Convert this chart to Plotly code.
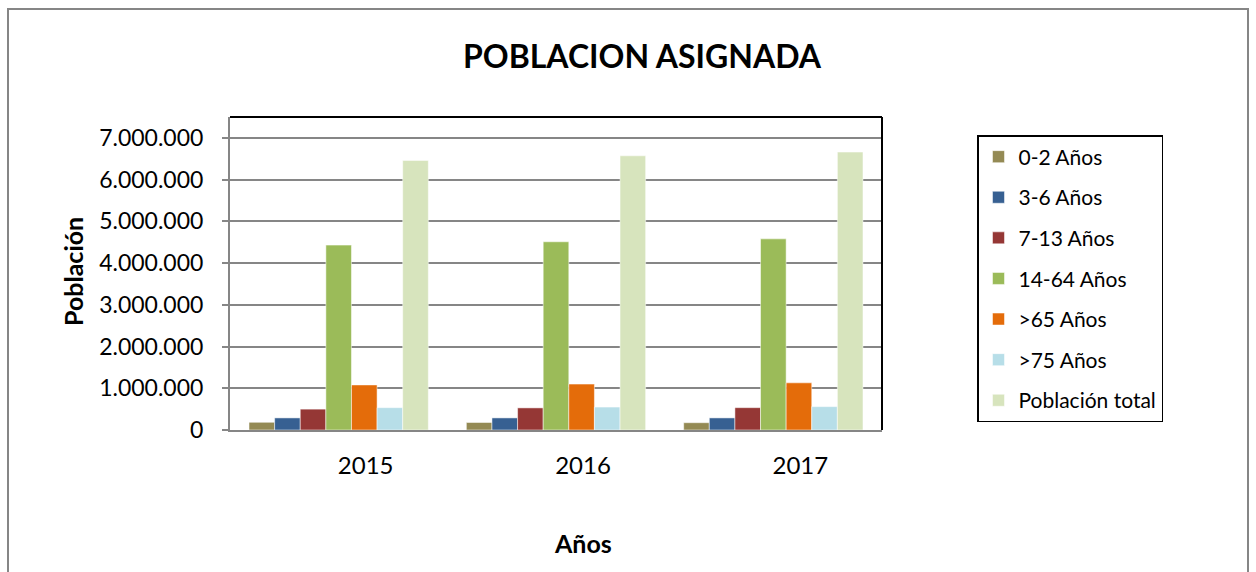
import plotly.graph_objects as go

years = ["2015", "2016", "2017"]
series_names = ["0-2 Años", "3-6 Años", "7-13 Años", "14-64 Años", ">65 Años", ">75 Años", "Población total"]
v_0_2 = [185000, 180000, 175000]
v_3_6 = [290000, 290000, 290000]
v_7_13 = [500000, 530000, 535000]
v_14_64 = [4430000, 4510000, 4580000]
v_65 = [1080000, 1100000, 1130000]
v_75 = [535000, 550000, 560000]
v_total = [6460000, 6570000, 6660000]
colors = ["#948A54", "#376092", "#953735", "#9BBB59", "#E46C0A", "#B7DEE8", "#D7E4BD"]
y_ticks = [0, 1000000, 2000000, 3000000, 4000000, 5000000, 6000000, 7000000]
y_tick_text = ["0", "1.000.000", "2.000.000", "3.000.000", "4.000.000", "5.000.000", "6.000.000", "7.000.000"]

values = [v_0_2, v_3_6, v_7_13, v_14_64, v_65, v_75, v_total]

FONT = "Lato"
W, H = 1256, 572
L, R, T, B = 230, 882, 117, 430
pw, ph = R - L, B - T

def px(x):
    return (x - L) / pw

def py(y):
    return (B - y) / ph

fig = go.Figure()
for i, (name, vals) in enumerate(zip(series_names, values)):
    fig.add_trace(go.Bar(
        x=years, y=vals, name=name, legendgroup=name,
        marker=dict(color=colors[i], line=dict(color="rgba(255,255,255,0.5)", width=1)),
    ))

annotations = [
    dict(text="<b>POBLACION ASIGNADA</b>", xref="paper", yref="paper",
         x=px(642), y=py(55), showarrow=False, xanchor="center", yanchor="middle",
         font=dict(family=FONT, size=32, color="black")),
    dict(text="<b>Población</b>", xref="paper", yref="paper",
         x=px(73), y=py(272), showarrow=False, textangle=-90,
         xanchor="center", yanchor="middle",
         font=dict(family=FONT, size=25, color="black")),
    dict(text="<b>Años</b>", xref="paper", yref="paper",
         x=px(583), y=py(543), showarrow=False, xanchor="center", yanchor="middle",
         font=dict(family=FONT, size=25, color="black")),
]

fig.update_layout(
    width=W, height=H,
    margin=dict(l=L, r=W - R, t=T, b=H - B),
    paper_bgcolor="white", plot_bgcolor="white",
    barmode="group", bargap=0.175, bargroupgap=0,
    font=dict(family=FONT, color="black"),
    showlegend=True,
    legend=dict(
        x=px(977), y=py(135), xanchor="left", yanchor="top",
        bordercolor="black", borderwidth=1.5, bgcolor="white",
        font=dict(family=FONT, size=21, color="black"),
        tracegroupgap=10.3, traceorder="grouped",
        itemwidth=30,
    ),
    xaxis=dict(
        type="category",
        showline=True, linecolor="#868686", linewidth=2,
        ticks="", showgrid=False,
        tickfont=dict(family=FONT, size=24, color="black"),
        ticklabelstandoff=13, ticklabelshift=27,
    ),
    yaxis=dict(
        range=[0, 7500000], tickvals=y_ticks, ticktext=y_tick_text,
        showline=True, linecolor="#868686", linewidth=2,
        ticks="outside", ticklen=6, tickcolor="#868686", tickwidth=2,
        tickfont=dict(family=FONT, size=23, color="black"),
        ticklabelstandoff=14,
        showgrid=True, gridcolor="#868686", gridwidth=2,
        zeroline=False,
    ),
    shapes=[
        dict(type="line", xref="paper", yref="paper", x0=0, x1=1, y0=1, y1=1,
             line=dict(color="black", width=2)),
        dict(type="line", xref="paper", yref="paper", x0=1, x1=1, y0=0, y1=1,
             line=dict(color="black", width=2)),
        dict(type="rect", xref="paper", yref="paper",
             x0=px(8), x1=px(1248), y0=py(600), y1=py(9),
             line=dict(color="#868686", width=2), layer="below"),
    ],
    annotations=annotations,
)

fig.write_html("out.html", config={"displayModeBar": False},
               post_script="document.body.style.margin='0px';document.body.style.overflow='hidden';")
